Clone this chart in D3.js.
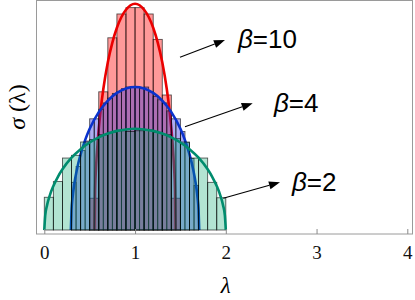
<!DOCTYPE html>
<html><head><meta charset="utf-8">
<script src="https://cdn.jsdelivr.net/npm/d3@7"></script>
<style>body{margin:0;background:#fff}svg{display:block}</style>
</head><body><svg id="c" width="415" height="300"></svg>
<script>
// ---- data ----
const xTicks = [0, 1, 2, 3, 4];
const seriesNames = ["β=2", "β=4", "β=10"];

// histograms (bin start, bin width, densities)
const beta2Start = 0.0, beta2Step = 0.1;
const beta2Heights = [0.206, 0.305, 0.453, 0.470, 0.554, 0.570, 0.600, 0.615, 0.625, 0.620,
                      0.625, 0.630, 0.615, 0.600, 0.575, 0.554, 0.453, 0.453, 0.300, 0.203];
const beta4Start = 0.3, beta4Step = 0.05;
const beta4Heights = [0.30, 0.40, 0.50, 0.56, 0.70, 0.70, 0.76, 0.80, 0.83, 0.86, 0.87, 0.89, 0.90, 0.90,
                      0.90, 0.89, 0.90, 0.87, 0.84, 0.82, 0.80, 0.75, 0.70, 0.70, 0.62, 0.55, 0.45, 0.28];
const beta10Start = 0.5, beta10Step = 0.1;
const beta10Heights = [0.20, 0.87, 1.21, 1.36, 1.40, 1.40, 1.36, 1.20, 0.85, 0.20];

// fitted semicircle curves (read points)
const beta2CurveX = [0, 0.01, 0.03, 0.06, 0.1, 0.15, 0.2, 0.3, 0.4, 0.5, 0.6, 0.7, 0.8, 0.9, 1.0,
                     1.1, 1.2, 1.3, 1.4, 1.5, 1.6, 1.7, 1.8, 1.85, 1.9, 1.94, 1.97, 1.99, 2.0];
const beta2CurveY = [0, 0.090, 0.155, 0.217, 0.277, 0.335, 0.382, 0.455, 0.509, 0.551, 0.583, 0.607, 0.624, 0.633, 0.637,
                     0.633, 0.624, 0.607, 0.583, 0.551, 0.509, 0.455, 0.382, 0.335, 0.277, 0.217, 0.155, 0.090, 0];
const beta4CurveX = [0.293, 0.30, 0.31, 0.33, 0.36, 0.4, 0.45, 0.5, 0.6, 0.7, 0.8, 0.9, 1.0,
                     1.1, 1.2, 1.3, 1.4, 1.5, 1.55, 1.6, 1.64, 1.67, 1.69, 1.70, 1.707];
const beta4CurveY = [0, 0.127, 0.197, 0.288, 0.383, 0.476, 0.566, 0.637, 0.742, 0.815, 0.863, 0.891, 0.900,
                     0.891, 0.863, 0.815, 0.742, 0.637, 0.566, 0.476, 0.383, 0.288, 0.197, 0.127, 0];
const beta10CurveX = [0.553, 0.56, 0.57, 0.59, 0.62, 0.65, 0.7, 0.75, 0.8, 0.85, 0.9, 0.95, 1.0,
                      1.05, 1.1, 1.15, 1.2, 1.25, 1.3, 1.35, 1.38, 1.41, 1.43, 1.44, 1.447];
const beta10CurveY = [0, 0.255, 0.391, 0.569, 0.750, 0.886, 1.056, 1.180, 1.273, 1.341, 1.387, 1.415, 1.424,
                      1.415, 1.387, 1.341, 1.273, 1.180, 1.056, 0.886, 0.750, 0.569, 0.391, 0.255, 0];

// ---- layout ----
const svg = d3.select("#c");
const x = d3.scaleLinear().domain([0, 4]).range([44.3, 407.3]);
const y = d3.scaleLinear().domain([0, 1.448]).range([230, 0]);

const styles = {
  b2: {fill: "rgb(0,165,105)", op: 0.3, line: "rgb(0,140,110)"},
  b4: {fill: "rgb(40,40,220)", op: 0.38, line: "rgb(10,50,205)"},
  b10:{fill: "rgb(255,0,0)", op: 0.4, line: "rgb(235,0,0)"}
};

function hist(start, step, heights, st) {
  const bins = heights.map((h, i) => ({x0: start + i * step, x1: start + (i + 1) * step, h}));
  svg.append("g").selectAll("rect").data(bins).join("rect")
    .attr("x", d => x(d.x0)).attr("width", d => x(d.x1) - x(d.x0))
    .attr("y", d => y(d.h)).attr("height", d => y(0) - y(d.h))
    .attr("fill", st.fill).attr("fill-opacity", st.op)
    .attr("stroke", "#000").attr("stroke-opacity", 0.65).attr("stroke-width", 0.9);
}
function curve(xs, ys, st) {
  const pts = xs.map((v, i) => [v, ys[i]]);
  svg.append("path").datum(pts)
    .attr("d", d3.line().x(d => x(d[0])).y(d => y(d[1])).curve(d3.curveMonotoneX))
    .attr("fill", "none").attr("stroke", st.line).attr("stroke-width", 2.6);
}

hist(beta10Start, beta10Step, beta10Heights, styles.b10);
curve(beta10CurveX, beta10CurveY, styles.b10);
hist(beta4Start, beta4Step, beta4Heights, styles.b4);
curve(beta4CurveX, beta4CurveY, styles.b4);
hist(beta2Start, beta2Step, beta2Heights, styles.b2);
curve(beta2CurveX, beta2CurveY, styles.b2);

// frame
svg.append("rect").attr("x", 36.5).attr("y", 0.5).attr("width", 376).attr("height", 233.5)
  .attr("fill", "none").attr("stroke", "#9a9a9a").attr("stroke-width", 1);

// axis
const serif = "'Liberation Serif', 'Times New Roman', Times, serif";
const ax = svg.append("g").attr("transform", "translate(0,234)")
  .call(d3.axisBottom(x).tickValues(xTicks).tickSize(-5).tickSizeOuter(0).tickFormat(d3.format("d")));
ax.attr("font-family", serif);
ax.select(".domain").remove();
ax.selectAll(".tick line").attr("stroke", "#8a8a8a");
ax.selectAll(".tick text").attr("y", 25).attr("dy", 0)
  .style("font-family", serif).attr("font-size", 19).attr("fill", "#111");

// axis titles
svg.append("text").attr("x", x(2)).attr("y", 293).attr("text-anchor", "middle")
  .style("font-family", serif).attr("font-style", "italic").attr("font-size", 23).text("λ");
svg.append("text").attr("transform", "translate(25,107) rotate(-90)").attr("text-anchor", "middle")
  .style("font-family", serif).attr("font-size", 24)
  .call(t => { t.append("tspan").attr("font-style", "italic").text("σ"); t.append("tspan").text(" (λ)"); });

// annotations (data coords)
const ann = [
  {name: seriesNames[2], from: [1.495, 1.088], to: [1.991, 1.196], text: [2.134, 1.146]},
  {name: seriesNames[1], from: [1.550, 0.650], to: [2.296, 0.798], text: [2.531, 0.745]},
  {name: seriesNames[0], from: [1.972, 0.200], to: [2.597, 0.300], text: [2.729, 0.247]}
];
ann.forEach(a => {
  const x1 = x(a.from[0]), y1 = y(a.from[1]), x2 = x(a.to[0]), y2 = y(a.to[1]);
  const ang = Math.atan2(y2 - y1, x2 - x1), L = 11, W = 4;
  const bx = x2 - L * Math.cos(ang), by = y2 - L * Math.sin(ang);
  svg.append("line").attr("x1", x1).attr("y1", y1).attr("x2", bx).attr("y2", by)
    .attr("stroke", "#000").attr("stroke-width", 1.1);
  svg.append("path").attr("d", `M${x2},${y2}L${bx + W * Math.sin(ang)},${by - W * Math.cos(ang)}L${bx - W * Math.sin(ang)},${by + W * Math.cos(ang)}Z`)
    .attr("fill", "#000");
  const parts = a.name.split("=");
  const t = svg.append("text").attr("x", x(a.text[0])).attr("y", y(a.text[1]))
    .attr("font-family", "'Liberation Sans', Arial, sans-serif").attr("font-size", 26).attr("fill", "#000");
  t.append("tspan").attr("font-style", "italic").text(parts[0]);
  t.append("tspan").text("=" + parts[1]);
});
</script></body></html>
